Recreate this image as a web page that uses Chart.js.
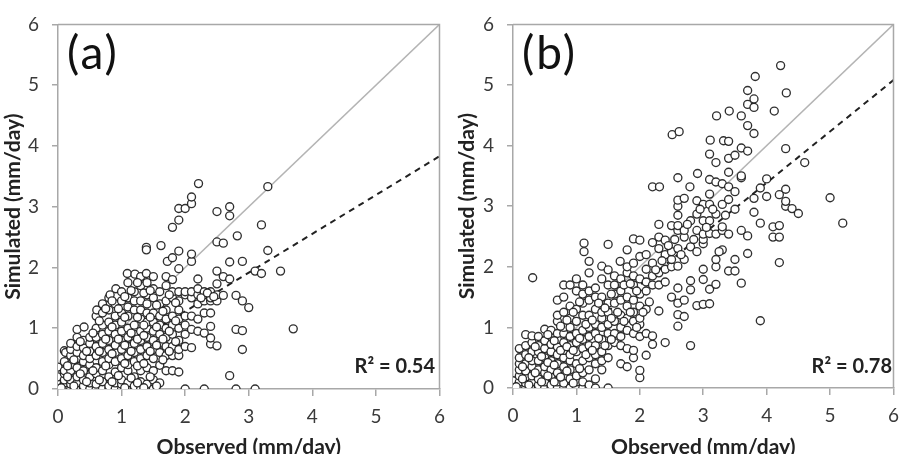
<!DOCTYPE html>
<html>
<head>
<meta charset="utf-8">
<script src="https://cdn.jsdelivr.net/npm/chart.js@4.4.1/dist/chart.umd.min.js"></script>
<style>
  html, body { margin: 0; padding: 0; background: #fff; overflow: hidden; }
  #wrap { position: relative; width: 908px; height: 454px; overflow: hidden; }
  .panel { position: absolute; top: 0; width: 454px; height: 466px; }
  .tag { position: absolute; font-family: Lato, sans-serif; font-size: 46px; letter-spacing: 2px; line-height: 1; color: #111; }
  .r2 { position: absolute; font-family: Lato, sans-serif; font-weight: bold; font-size: 20px; line-height: 1; color: #222; text-align: right; }
</style>
</head>
<body>
<div id="wrap">
  <div class="panel" style="left:0">
    <canvas id="chartA" width="454" height="466"></canvas>
    <div class="tag" style="left:67px; top:29px">(a)</div>
    <div class="r2" style="right:19px; top:355px">R² = 0.54</div>
  </div>
  <div class="panel" style="left:454px">
    <canvas id="chartB" width="454" height="466"></canvas>
    <div class="tag" style="left:68px; top:29px">(b)</div>
    <div class="r2" style="right:16px; top:355px">R² = 0.78</div>
  </div>
</div>
<script>
// axis ticks
const axisTicks = [0, 1, 2, 3, 4, 5, 6];

// 1:1 line and fitted (dashed) lines, [x, y] end points
const oneToOne = [[0, 0], [6, 6]];
const fitA = [[0, 0], [6, 3.83]];
const fitB = [[0, 0], [6, 5.08]];

// panel (a) points: [observed, simulated] (mm/day)
const pointsA = [
  [0,0],[0,0.05],[0,0.1],[0,0.2],[0,0.36],
  [0.1,0],[0.1,0.05],[0.1,0.1],[0.1,0.15],[0.1,0.25],[0.1,0.3],[0.1,0.45],[0.1,0.63],[0.12,0.6],
  [0.2,0],[0.2,0.08],[0.2,0.15],[0.2,0.3],[0.2,0.4],[0.2,0.55],[0.2,0.65],[0.2,0.75],
  [0.3,0],[0.3,0.1],[0.3,0.2],[0.3,0.35],[0.3,0.5],[0.3,0.6],[0.3,0.7],[0.3,0.85],[0.3,0.98],
  [0.4,0],[0.4,0.05],[0.4,0.15],[0.4,0.3],[0.4,0.45],[0.4,0.55],[0.4,0.68],[0.4,0.8],[0.41,1.02],
  [0.5,0],[0.5,0.1],[0.5,0.2],[0.5,0.4],[0.5,0.5],[0.5,0.62],[0.5,0.75],[0.5,0.85],
  [0.6,0],[0.6,0.08],[0.6,0.25],[0.6,0.35],[0.6,0.55],[0.6,0.7],[0.6,0.85],[0.6,1.0],[0.6,1.2],[0.61,1.3],
  [0.7,0],[0.7,0.12],[0.7,0.3],[0.7,0.45],[0.7,0.6],[0.7,0.75],[0.7,0.9],[0.7,1.05],[0.7,1.25],[0.7,1.4],
  [0.8,0],[0.8,0.05],[0.8,0.2],[0.8,0.4],[0.8,0.5],[0.8,0.65],[0.8,0.8],[0.8,0.95],[0.8,1.1],[0.8,1.3],[0.8,1.5],[0.82,1.55],
  [0.9,0],[0.9,0.1],[0.9,0.28],[0.9,0.45],[0.9,0.6],[0.9,0.72],[0.9,0.9],[0.9,1.05],[0.9,1.2],[0.9,1.4],[0.91,1.65],
  [1.0,0],[1.0,0.08],[1.0,0.15],[1.0,0.35],[1.0,0.5],[1.0,0.65],[1.0,0.8],[1.0,0.95],[1.0,1.1],[1.0,1.25],[1.0,1.45],[1.0,1.6],
  [1.1,0],[1.1,0.1],[1.1,0.3],[1.1,0.4],[1.1,0.55],[1.1,0.7],[1.1,0.85],[1.1,1.0],[1.1,1.2],[1.1,1.35],[1.1,1.5],[1.1,1.75],[1.09,1.9],
  [1.2,0],[1.2,0.05],[1.2,0.2],[1.2,0.45],[1.2,0.6],[1.2,0.75],[1.2,0.9],[1.2,1.05],[1.2,1.3],[1.2,1.45],[1.2,1.6],[1.21,1.89],
  [1.3,0],[1.3,0.12],[1.3,0.3],[1.3,0.5],[1.3,0.65],[1.3,0.8],[1.3,0.95],[1.3,1.15],[1.3,1.3],[1.3,1.45],[1.3,1.7],[1.3,1.85],
  [1.4,0],[1.4,0.08],[1.4,0.35],[1.4,0.55],[1.4,0.7],[1.4,0.85],[1.4,1.0],[1.4,1.1],[1.4,1.25],[1.4,1.4],[1.4,1.55],[1.4,1.75],[1.39,1.9],[1.39,2.33],[1.39,2.29],
  [1.5,0],[1.5,0.15],[1.5,0.3],[1.5,0.5],[1.5,0.65],[1.5,0.8],[1.5,0.95],[1.5,1.1],[1.5,1.25],[1.5,1.5],[1.5,1.65],[1.5,1.85],
  [1.6,0.1],[1.6,0.39],[1.6,0.6],[1.6,0.75],[1.6,0.9],[1.6,1.05],[1.6,1.2],[1.6,1.4],[1.6,1.6],[1.62,2.36],
  [1.7,0.3],[1.7,0.55],[1.7,0.7],[1.7,0.85],[1.7,1.0],[1.7,1.15],[1.7,1.3],[1.7,1.45],[1.7,1.7],[1.7,1.85],[1.72,2.1],
  [1.8,0.3],[1.8,0.55],[1.8,0.7],[1.8,0.9],[1.8,1.05],[1.8,1.2],[1.8,1.5],[1.8,1.6],[1.8,1.8],[1.8,2.16],[1.8,2.66],
  [1.9,0.28],[1.9,0.55],[1.9,0.65],[1.9,0.8],[1.9,1.0],[1.9,1.15],[1.9,1.3],[1.9,1.45],[1.9,1.6],[1.9,1.98],[1.9,2.27],[1.9,2.78],[1.9,2.97],
  [2.0,0],[2.0,0.7],[2.0,0.9],[2.0,1.05],[2.0,1.2],[2.0,1.55],[2.0,1.6],[2.0,2.97],
  [2.1,0.68],[2.1,0.98],[2.1,1.2],[2.1,1.5],[2.1,1.6],[2.1,2.1],[2.1,2.22],[2.1,3.05],[2.1,3.16],
  [2.2,0.95],[2.2,1.15],[2.2,1.4],[2.2,1.55],[2.2,1.65],[2.2,1.81],[2.21,3.38],
  [2.3,0],[2.3,0.92],[2.3,1.25],[2.3,1.45],[2.3,1.55],[2.3,1.6],
  [2.4,0.74],[2.4,0.84],[2.4,1.03],[2.4,1.25],[2.4,1.45],[2.4,1.5],[2.4,1.6],
  [2.5,0.71],[2.5,1.45],[2.5,1.55],[2.5,1.73],[2.5,1.94],[2.5,2.42],[2.5,2.92],
  [2.6,1.54],[2.6,1.85],[2.6,2.4],
  [2.7,0.22],[2.7,1.81],[2.7,2.09],[2.7,2.85],[2.7,3.0],
  [2.8,0],[2.8,0.98],[2.8,1.54],[2.82,2.52],
  [2.9,0.65],[2.9,0.96],[2.9,1.45],[2.9,2.1],
  [3.0,1.34],
  [3.1,0],[3.1,1.94],
  [3.2,1.9],[3.2,2.7],
  [3.3,2.28],[3.3,3.33],
  [3.5,1.94],
  [3.7,0.99],
  // extra points inside the dense cloud
  [0.05,0.02],[0.15,0.2],[0.15,0.38],[0.25,0.05],[0.25,0.48],[0.35,0.25],[0.35,0.78],[0.45,0.12],[0.45,0.62],
  [0.55,0.3],[0.55,0.92],[0.65,0.15],[0.65,0.62],[0.65,1.12],[0.75,0.38],[0.75,0.82],[0.75,1.32],[0.85,0.12],
  [0.85,0.58],[0.85,1.02],[0.85,1.45],[0.95,0.22],[0.95,0.82],[0.95,1.32],[1.05,0.02],[1.05,0.42],[1.05,0.72],
  [1.05,1.18],[1.05,1.52],[1.15,0.18],[1.15,0.62],[1.15,0.92],[1.15,1.62],[1.25,0.1],[1.25,0.38],[1.25,0.82],
  [1.25,1.18],[1.25,1.75],[1.35,0.02],[1.35,0.42],[1.35,0.88],[1.35,1.05],[1.35,1.58],[1.45,0.2],[1.45,0.62],
  [1.45,1.18],[1.45,1.62],[1.55,0.05],[1.55,0.72],[1.55,1.02],[1.55,1.38],[1.65,0.48],[1.65,0.82],[1.65,1.28],
  [1.75,0.62],[1.75,0.95],[1.75,1.55],[1.85,0.78],[1.85,1.12],[1.85,1.42],[2.25,1.5],[2.35,1.58],[2.45,1.52]
];

// panel (b) points: [observed, simulated] (mm/day)
const pointsB = [
  [0,0],[0,0.05],[0,0.12],
  [0.1,0],[0.1,0.1],[0.1,0.2],[0.1,0.3],[0.1,0.4],[0.1,0.5],[0.1,0.65],
  [0.2,0],[0.2,0.08],[0.2,0.18],[0.2,0.28],[0.2,0.4],[0.2,0.55],[0.2,0.7],[0.2,0.88],
  [0.3,0],[0.3,0.1],[0.3,0.2],[0.3,0.35],[0.3,0.45],[0.3,0.6],[0.3,0.75],[0.3,0.86],[0.31,1.82],
  [0.4,0],[0.4,0.05],[0.4,0.15],[0.4,0.3],[0.4,0.45],[0.4,0.6],[0.4,0.7],[0.4,0.85],
  [0.5,0],[0.5,0.1],[0.5,0.25],[0.5,0.35],[0.5,0.5],[0.5,0.65],[0.5,0.78],[0.5,0.97],
  [0.6,0],[0.6,0.05],[0.6,0.18],[0.6,0.3],[0.6,0.45],[0.6,0.6],[0.6,0.72],[0.6,0.85],[0.6,0.95],
  [0.7,0],[0.7,0.1],[0.7,0.25],[0.7,0.4],[0.7,0.55],[0.7,0.68],[0.7,0.8],[0.7,0.9],[0.7,1.1],[0.7,1.2],[0.7,1.45],
  [0.8,0],[0.8,0.08],[0.8,0.2],[0.8,0.35],[0.8,0.5],[0.8,0.62],[0.8,0.75],[0.8,0.9],[0.8,1.0],[0.8,1.25],[0.8,1.5],[0.8,1.7],
  [0.9,0],[0.9,0.15],[0.9,0.3],[0.9,0.45],[0.9,0.55],[0.9,0.7],[0.9,0.85],[0.9,1.0],[0.9,1.15],[0.9,1.35],[0.9,1.7],
  [1.0,0],[1.0,0.1],[1.0,0.2],[1.0,0.4],[1.0,0.6],[1.0,0.75],[1.0,0.9],[1.0,1.1],[1.0,1.3],[1.0,1.6],[1.0,1.8],
  [1.1,0],[1.1,0.1],[1.1,0.25],[1.1,0.45],[1.1,0.65],[1.1,0.8],[1.1,0.95],[1.1,1.2],[1.1,1.4],[1.1,1.55],[1.1,1.7],[1.12,2.25],[1.12,2.39],
  [1.2,0],[1.2,0.05],[1.2,0.3],[1.2,0.5],[1.2,0.7],[1.2,0.85],[1.2,1.0],[1.2,1.2],[1.2,1.45],[1.2,1.6],[1.2,1.9],[1.2,2.09],
  [1.3,0],[1.3,0.15],[1.3,0.4],[1.3,0.55],[1.3,0.7],[1.3,0.9],[1.3,1.05],[1.3,1.3],[1.3,1.5],[1.3,1.65],
  [1.4,0.3],[1.4,0.45],[1.4,0.6],[1.4,0.8],[1.4,1.0],[1.4,1.15],[1.4,1.25],[1.4,1.5],[1.4,1.8],[1.4,2.01],
  [1.5,0],[1.5,0.5],[1.5,0.7],[1.5,0.9],[1.5,1.05],[1.5,1.25],[1.5,1.4],[1.5,1.7],[1.5,1.95],[1.5,2.37],
  [1.6,0.75],[1.6,0.9],[1.6,1.1],[1.6,1.4],[1.6,1.55],[1.6,1.7],[1.6,1.85],
  [1.7,0.4],[1.7,0.7],[1.7,0.85],[1.7,1.0],[1.7,1.2],[1.7,1.45],[1.7,1.6],[1.7,1.8],[1.69,2.09],
  [1.8,0.35],[1.8,0.65],[1.8,0.95],[1.8,1.15],[1.8,1.35],[1.8,1.5],[1.8,1.9],[1.8,2.0],[1.8,2.28],
  [1.9,0.5],[1.9,0.62],[1.9,0.9],[1.9,1.1],[1.9,1.25],[1.9,1.45],[1.9,1.7],[1.9,1.85],[1.9,2.06],[1.9,2.46],
  [2.0,0.17],[2.0,0.29],[2.0,0.85],[2.0,1.05],[2.0,1.15],[2.0,1.35],[2.0,1.55],[2.0,1.8],[2.0,2.17],[2.0,2.44],
  [2.1,0.54],[2.1,0.9],[2.1,1.3],[2.1,1.6],[2.1,1.75],[2.1,1.96],[2.1,2.2],
  [2.2,0.72],[2.2,0.86],[2.2,1.7],[2.2,1.85],[2.2,2.06],[2.2,2.4],[2.2,3.32],
  [2.3,1.27],[2.3,1.7],[2.3,1.9],[2.3,2.3],[2.3,2.49],[2.3,2.7],[2.31,3.32],
  [2.4,0.75],[2.4,1.75],[2.4,1.96],[2.4,2.2],[2.4,2.44],
  [2.5,1.5],[2.5,2.0],[2.5,2.12],[2.5,2.25],[2.5,2.68],[2.51,4.18],
  [2.6,1.02],[2.6,1.21],[2.6,1.4],[2.6,1.65],[2.6,2.01],[2.6,2.3],[2.6,2.6],[2.6,2.68],[2.6,2.85],[2.6,3.0],[2.6,3.1],[2.6,3.47],[2.62,4.23],
  [2.7,1.18],[2.7,1.45],[2.7,2.12],[2.7,2.49],[2.7,2.6],[2.7,3.13],
  [2.8,0.7],[2.8,1.62],[2.8,1.77],[2.8,2.33],[2.8,2.76],[2.79,3.32],
  [2.9,1.36],[2.9,2.25],[2.9,2.6],[2.9,2.87],[2.9,3.09],[2.91,3.54],
  [3.0,1.38],[3.0,1.79],[3.0,1.96],[3.0,2.38],[3.0,2.45],[3.0,2.54],[3.0,2.76],[3.0,3.03],
  [3.1,1.39],[3.1,1.63],[3.1,2.55],[3.1,2.76],[3.1,3.03],[3.1,3.2],[3.1,3.44],[3.1,3.86],[3.11,4.09],
  [3.2,1.71],[3.2,2.0],[3.2,2.12],[3.2,2.54],[3.2,2.87],[3.2,3.4],[3.2,3.72],[3.21,4.49],
  [3.3,2.28],[3.3,2.6],[3.3,2.66],[3.3,3.03],[3.3,3.37],[3.32,4.08],
  [3.4,1.93],[3.4,2.54],[3.4,3.11],[3.4,3.32],[3.4,3.56],[3.4,3.79],[3.4,4.07],[3.41,4.57],
  [3.5,1.93],[3.5,2.12],[3.5,2.95],[3.5,3.24],[3.5,3.84],
  [3.6,1.73],[3.6,2.6],[3.6,3.47],[3.6,3.5],[3.6,3.96],[3.6,4.49],
  [3.7,2.22],[3.7,2.51],[3.7,3.91],[3.7,4.33],[3.7,4.68],[3.7,4.91],
  [3.8,2.9],[3.8,3.13],[3.8,4.2],[3.8,4.63],[3.8,4.77],[3.82,5.14],
  [3.9,1.11],[3.9,2.72],[3.9,3.3],
  [4.0,3.16],[4.0,3.45],
  [4.1,2.49],[4.1,2.66],[4.12,4.57],
  [4.2,2.07],[4.2,2.49],[4.2,2.68],[4.2,3.19],[4.22,5.32],
  [4.3,3.0],[4.3,3.08],[4.3,3.28],[4.3,3.95],[4.31,4.87],
  [4.4,2.96],
  [4.5,2.88],
  [4.6,3.72],
  [5.0,3.14],
  [5.2,2.72],
  // extra points inside the dense cloud
  [0.05,0.02],[0.15,0.15],[0.15,0.35],[0.25,0.05],[0.25,0.5],[0.35,0.25],[0.35,0.68],[0.45,0.1],[0.45,0.52],
  [0.55,0.2],[0.55,0.42],[0.55,0.88],[0.65,0.1],[0.65,0.38],[0.65,0.78],[0.75,0.18],[0.75,0.62],[0.75,1.02],
  [0.85,0.28],[0.85,0.68],[0.85,1.12],[0.95,0.08],[0.95,0.62],[0.95,1.25],[1.05,0.32],[1.05,0.82],[1.05,1.42],
  [1.15,0.55],[1.15,1.05],[1.25,0.62],[1.25,1.12],[1.35,0.82],[1.35,1.4],[1.45,0.7],[1.45,1.32],[1.55,0.8],
  [1.55,1.15],[1.55,1.55],[1.65,1.25],[1.75,1.1],[1.75,1.7],[1.85,1.25],[1.85,1.72],[1.95,1.0],[1.95,1.6],
  [2.05,1.25],[2.15,1.42],[2.25,1.95],[2.35,2.1],[2.45,2.35],[2.55,2.45],[2.65,2.2],[2.75,2.7],[2.85,2.45],
  [2.95,2.95],[3.05,2.65],[3.15,2.95],[3.25,2.25],[3.35,2.85]
];

const AXIS_GRAY = '#a8a8a8';
const FONT = 'Lato, sans-serif';

function toXY(arr) {
  return arr.map(p => ({ x: p[0], y: p[1] }));
}

// frame on top and right like the original plot box
const frame = {
  id: 'frame',
  afterDraw(chart) {
    const { ctx, chartArea: a } = chart;
    ctx.save();
    ctx.strokeStyle = AXIS_GRAY;
    ctx.lineWidth = 1.5;
    ctx.beginPath();
    ctx.moveTo(a.left, a.top);
    ctx.lineTo(a.right, a.top);
    ctx.lineTo(a.right, a.bottom);
    ctx.stroke();
    ctx.restore();
  }
};

function makeChart(id, points, fit, yWidth, xHeight, padRight) {
  const ctx = document.getElementById(id).getContext('2d');
  return new Chart(ctx, {
    type: 'scatter',
    data: {
      datasets: [
        {
          data: toXY(points),
          pointRadius: 4,
          pointHoverRadius: 4,
          pointBorderWidth: 1.35,
          pointBorderColor: 'rgba(25,25,25,0.9)',
          pointBackgroundColor: '#fff',
          order: 1
        },
        {
          type: 'line',
          data: toXY(oneToOne),
          borderColor: '#b4b4b4',
          borderWidth: 1.5,
          pointRadius: 0,
          fill: false,
          order: 2
        },
        {
          type: 'line',
          data: toXY(fit),
          borderColor: '#222',
          borderWidth: 2,
          borderDash: [6, 5],
          pointRadius: 0,
          fill: false,
          order: 2
        }
      ]
    },
    options: {
      responsive: false,
      animation: false,
      events: [],
      layout: { padding: { top: 15, right: padRight, left: 0, bottom: 0 } },
      scales: {
        x: {
          type: 'linear',
          min: 0, max: 6,
          afterBuildTicks: s => { s.ticks = axisTicks.map(v => ({ value: v })); },
          afterFit: s => { s.height = xHeight; },
          border: { color: AXIS_GRAY, width: 1.5 },
          grid: { drawOnChartArea: false, drawTicks: true, tickLength: 7, color: AXIS_GRAY, lineWidth: 1.5 },
          ticks: { color: '#3a3a3a', padding: 9, font: { family: FONT, size: 19 } },
          title: {
            display: true, text: 'Observed (mm/day)', color: '#222',
            font: { family: FONT, size: 21, weight: 'bold' },
            padding: { top: 0, bottom: 6 }
          }
        },
        y: {
          type: 'linear',
          min: 0, max: 6,
          afterBuildTicks: s => { s.ticks = axisTicks.map(v => ({ value: v })); },
          afterFit: s => { s.width = yWidth; },
          border: { color: AXIS_GRAY, width: 1.5 },
          grid: { drawOnChartArea: false, drawTicks: true, tickLength: 6, color: AXIS_GRAY, lineWidth: 1.5 },
          ticks: { color: '#3a3a3a', padding: 13, font: { family: FONT, size: 19 } },
          title: {
            display: true, text: 'Simulated (mm/day)', color: '#222',
            font: { family: FONT, size: 21, weight: 'bold' },
            padding: { top: 1, bottom: 0 }
          }
        }
      },
      plugins: {
        legend: { display: false },
        tooltip: { enabled: false }
      }
    },
    plugins: [frame]
  });
}

makeChart('chartA', pointsA, fitA, 58, 77, 14);
makeChart('chartB', pointsB, fitB, 59, 78, 12);
</script>
</body>
</html>
